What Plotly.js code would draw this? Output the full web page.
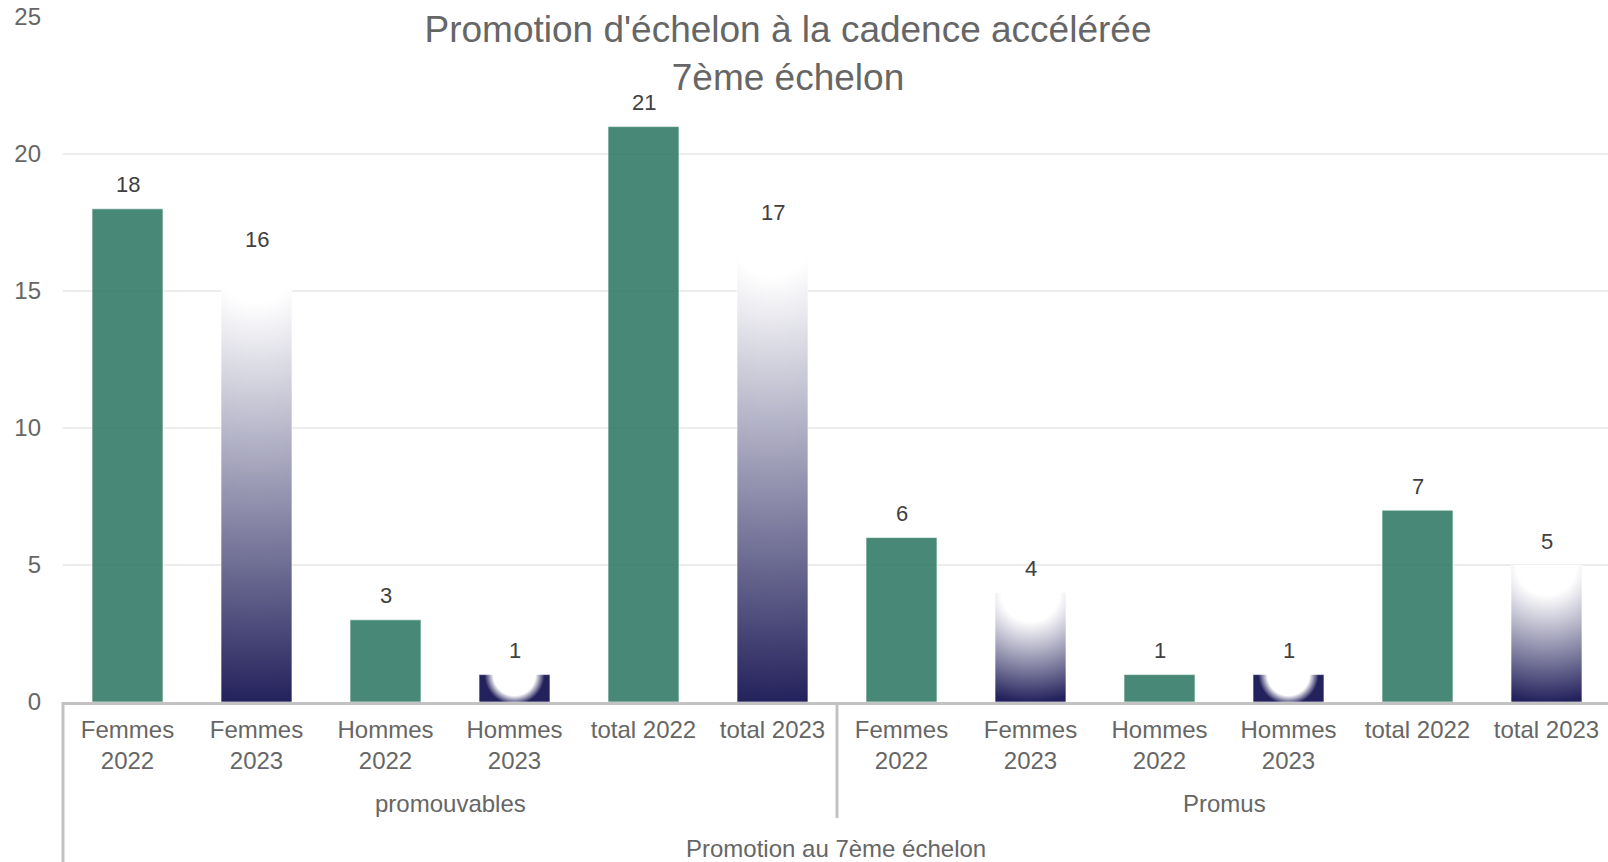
<!DOCTYPE html>
<html>
<head>
<meta charset="utf-8">
<script src="https://cdn.plot.ly/plotly-3.0.1.min.js"></script>
<style>
  html, body { margin: 0; padding: 0; overflow: hidden; background: #ffffff; }
  #chart { width: 1612px; height: 862px; }
</style>
</head>
<body>
<div id="chart"></div>
<script>
// ---- data ----
const chartTitle = "Promotion d'échelon à la cadence accélérée<br>7ème échelon";
const topLevelLabel = "Promotion au 7ème échelon";
const groups = ["promouvables", "Promus"];
const subCategories = ["Femmes<br>2022", "Femmes<br>2023", "Hommes<br>2022", "Hommes<br>2023", "total 2022", "total 2023"];
const subYears = ["2022", "2023", "2022", "2023", "2022", "2023"];
const promouvables = [18, 16, 3, 1, 21, 17];
const promus = [6, 4, 1, 1, 7, 5];
const yTicks = [0, 5, 10, 15, 20, 25];

// ---- styles ----
const FONT = "Liberation Sans, Arial, Helvetica, sans-serif";
const GREEN = "rgb(52,124,104)";
const NAVY = "rgb(36,34,92)";
const GREY_TEXT = "#666666";
const LINE_GREY = "#c2c2c2";

const groupValues = [promouvables, promus];
const nSub = subCategories.length;
const nAll = groups.length * nSub;

// build flat arrays
const xIdx = [], yVal = [], tickText = [], yearOf = [];
groups.forEach((g, gi) => {
  subCategories.forEach((s, si) => {
    xIdx.push(gi * nSub + si);
    yVal.push(groupValues[gi][si]);
    tickText.push(s);
    yearOf.push(subYears[si]);
  });
});

function pick(year) {
  const xs = [], ys = [];
  xIdx.forEach((x, i) => { if (yearOf[i] === year) { xs.push(x); ys.push(yVal[i]); } });
  return { xs, ys };
}
const s22 = pick("2022");
const s23 = pick("2023");

const traces = [
  {
    type: "bar", name: "2022", x: s22.xs, y: s22.ys, width: 0.55,
    marker: { color: GREEN, opacity: 0.9, line: { color: "rgba(255,255,255,0.6)", width: 1 } },
    hoverinfo: "none"
  },
  {
    type: "bar", name: "2023", x: s23.xs, y: s23.ys, width: 0.55,
    marker: { color: NAVY, line: { color: "rgba(255,255,255,0.6)", width: 1 } },
    hoverinfo: "none"
  }
];

// pixel -> paper helpers (plot area top=17, bottom=702)
const PT = 17, PB = 702;
function py(px) { return (PB - px) / (PB - PT); }

// value labels
const annotations = xIdx.map((x, i) => ({
  x: x, y: yVal[i], xref: "x", yref: "y", text: String(yVal[i]),
  showarrow: false, yanchor: "middle", yshift: 24,
  font: { family: FONT, size: 22, color: "#404040" }
}));
// group labels
groups.forEach((g, gi) => {
  annotations.push({
    x: gi * nSub + (nSub - 1) / 2, y: py(803), xref: "x", yref: "paper",
    text: g, showarrow: false, yanchor: "middle",
    font: { family: FONT, size: 24, color: GREY_TEXT }
  });
});
annotations.push({
  x: (nAll - 1) / 2 - 0.01, y: py(848), xref: "x", yref: "paper", text: topLevelLabel,
  showarrow: false, yanchor: "middle", font: { family: FONT, size: 24, color: GREY_TEXT }
});

// dividers
const shapes = [];
for (let gi = 0; gi <= groups.length; gi++) {
  const xp = (gi * nSub) / nAll;
  shapes.push({
    type: "line", xref: "paper", yref: "paper", x0: xp, x1: xp,
    y0: 0, y1: gi === 0 ? py(870) : py(818),
    line: { color: LINE_GREY, width: 3 }
  });
}

const layout = {
  width: 1612, height: 862,
  margin: { l: 63, r: 1, t: PT, b: 862 - PB },
  paper_bgcolor: "#ffffff", plot_bgcolor: "#ffffff",
  barmode: "overlay",
  showlegend: false,
  font: { family: FONT, color: GREY_TEXT },
  title: {
    text: chartTitle,
    font: { family: FONT, size: 37, color: GREY_TEXT },
    xref: "container", x: 788 / 1612, xanchor: "center",
    yref: "container", y: 1 - 42 / 862, yanchor: "top"
  },
  xaxis: {
    type: "linear", range: [-0.5, nAll - 0.5],
    tickmode: "array", tickvals: xIdx, ticktext: tickText,
    tickfont: { family: FONT, size: 24, color: GREY_TEXT },
    showgrid: false, zeroline: false, ticks: "",
    showline: true, linecolor: LINE_GREY, linewidth: 3,
    ticklabelstandoff: 4, fixedrange: true
  },
  yaxis: {
    range: [0, 25], tickmode: "array", tickvals: yTicks,
    tickfont: { family: FONT, size: 24, color: GREY_TEXT },
    showgrid: true, gridcolor: "#ececec", gridwidth: 1.5,
    zeroline: false, showline: false, ticks: "",
    ticklabelstandoff: 21, fixedrange: true
  },
  annotations: annotations,
  shapes: shapes
};

function applyGradients(gd) {
  const NS = "http://www.w3.org/2000/svg";
  const svg = gd.querySelector("svg.main-svg");
  let defs = svg.querySelector("defs");
  if (!defs) { defs = document.createElementNS(NS, "defs"); svg.insertBefore(defs, svg.firstChild); }
  const barTraces = gd.querySelectorAll(".barlayer .trace.bars");
  const tr = barTraces[1];
  if (!tr) return;
  tr.querySelectorAll(".point path").forEach((p, i) => {
    const b = p.getBBox();
    if (!b.height) return;
    const id = "grad2023_" + i;
    const g = document.createElementNS(NS, "radialGradient");
    g.setAttribute("id", id);
    g.setAttribute("gradientUnits", "userSpaceOnUse");
    g.setAttribute("cx", b.x + b.width / 2);
    g.setAttribute("cy", b.y);
    g.setAttribute("r", Math.max(b.height, 30));
    const off = Math.min(0.7, 26 / b.height + 0.03);
    [[0, "#ffffff"], [off, "#ffffff"], [1, NAVY]].forEach(([o, c]) => {
      const st = document.createElementNS(NS, "stop");
      st.setAttribute("offset", o);
      st.setAttribute("stop-color", c);
      g.appendChild(st);
    });
    defs.appendChild(g);
    p.style.fill = "url(#" + id + ")";
  });
}

Plotly.newPlot("chart", traces, layout, { displayModeBar: false, staticPlot: true })
  .then(gd => applyGradients(gd));
</script>
</body>
</html>
